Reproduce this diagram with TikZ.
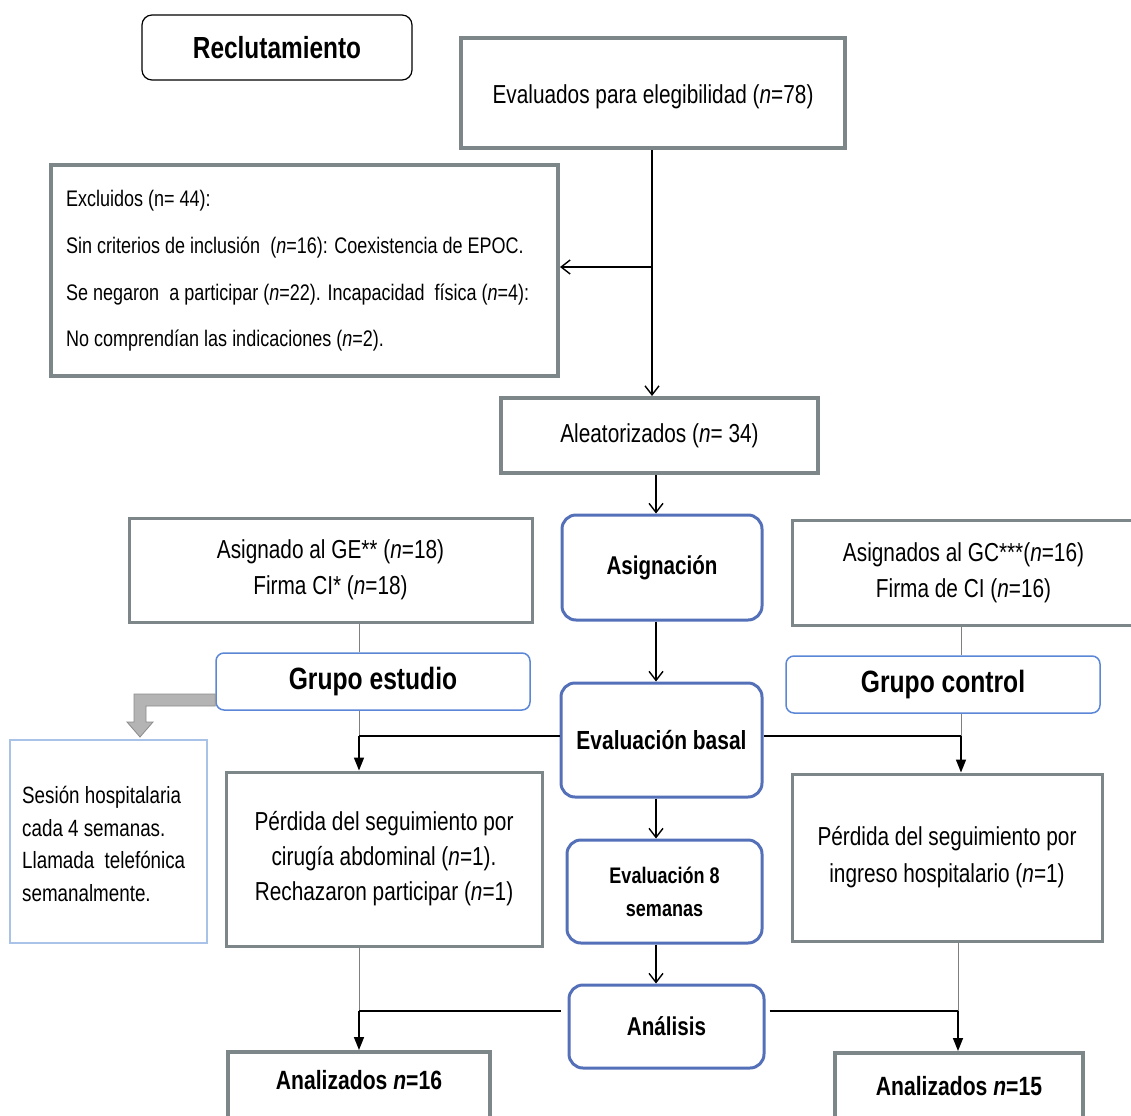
\documentclass[tikz,border=0pt]{standalone}
\usepackage{fontspec}
\setmainfont{Liberation Sans}[FakeStretch=0.80]
\usetikzlibrary{arrows.meta}
\definecolor{boxgray}{HTML}{7D878A}
\definecolor{roundblue}{HTML}{5470B8}
\definecolor{grpblue}{HTML}{5B87D6}
\definecolor{sesblue}{HTML}{A8C2E8}
\definecolor{blockgray}{HTML}{B4B4B4}
\definecolor{blockedge}{HTML}{8C8C8C}
\begin{document}
\begin{tikzpicture}[x=1pt,y=-1pt,
  graybox/.style={draw=boxgray, line width=4pt, fill=white, inner sep=4pt, align=center},
  thinbox/.style={draw=boxgray, line width=3pt, fill=white, inner sep=4pt, align=center},
  bluebox/.style={draw=roundblue, line width=3pt, rounded corners=14pt, fill=white, align=center, font=\bfseries\fontsize{26}{31}\selectfont},
  grpbox/.style={draw=grpblue, line width=1.5pt, rounded corners=8pt, fill=white, font=\bfseries\fontsize{30.8}{36}\selectfont},
  sesbox/.style={draw=sesblue, line width=1.5pt, fill=white},
  plain/.style={inner sep=0pt, align=left},
  conn/.style={line width=1.6pt, draw=black},
  thinconn/.style={line width=1pt, draw=gray},
  openarr/.style={conn, -{Straight Barb[length=9pt,width=14pt,line width=1.4pt]}},
  fillarr/.style={conn, -{Triangle[length=13pt,width=10pt]}}
]
\useasboundingbox (0,0) rectangle (1131,1115);

% nodes
\node[draw=black, line width=1.2pt, rounded corners=10pt, minimum width=270, minimum height=65, font=\bfseries\fontsize{30.5}{36}\selectfont] (rec) at (277,47.5) {Reclutamiento};
\node[graybox, minimum width=384, minimum height=110] (eval) at (653,93) {};
\node[plain, font=\fontsize{26}{31}\selectfont] (evalt) at (653,97) {Evaluados para elegibilidad (\textit{n}=78)};
\node[graybox, minimum width=507, minimum height=211] (excl) at (304.5,270.5) {};
\node[plain, anchor=west, font=\fontsize{22.5}{46.7}\selectfont] (exclt) at (66,271) {Excluidos (n= 44):\\Sin criterios de inclusión\ \ (\textit{n}=16): Coexistencia de EPOC.\\Se negaron\ \ a participar (\textit{n}=22). Incapacidad\ \ física (\textit{n}=4):\\No comprendían las indicaciones (\textit{n}=2).};
\node[graybox, minimum width=317, minimum height=75, font=\fontsize{26}{31}\selectfont] (alea) at (659.5,435.5) {Aleatorizados (\textit{n}= 34)};
\node[bluebox, minimum width=200, minimum height=105, font=\bfseries\fontsize{25.7}{31}\selectfont] (asig) at (662,567.5) {Asignación};
\node[thinbox, minimum width=403, minimum height=104, font=\fontsize{26}{36}\selectfont] (ge) at (330.5,570) {Asignado al GE** (\textit{n}=18)\\Firma CI* (\textit{n}=18)};
\node[thinbox, minimum width=343, minimum height=105, font=\fontsize{26}{36}\selectfont] (gc) at (963.5,572.5) {Asignados al GC***(\textit{n}=16)\\Firma de CI (\textit{n}=16)};
\node[grpbox, minimum width=314, minimum height=57] (gest) at (373,681.5) {Grupo estudio};
\node[grpbox, minimum width=314, minimum height=57] (gcon) at (943,684.5) {Grupo control};
\node[bluebox, minimum width=201, minimum height=114, font=\bfseries\fontsize{26.2}{31}\selectfont] (evb) at (661.5,740) {Evaluación basal};
\node[sesbox, minimum width=197, minimum height=203] (ses) at (108.5,841.5) {};
\node[plain, anchor=west, font=\fontsize{23.5}{32.7}\selectfont] (sest) at (22,844) {Sesión hospitalaria\\cada 4 semanas.\\Llamada\ \ telefónica\\semanalmente.};
\node[thinbox, minimum width=316, minimum height=174, font=\fontsize{26}{35}\selectfont] (pge) at (384,859) {Pérdida del seguimiento por\\cirugía abdominal (\textit{n}=1).\\Rechazaron participar (\textit{n}=1)};
\node[bluebox, minimum width=195, minimum height=103, font=\bfseries\fontsize{22.5}{33}\selectfont] (ev8) at (664.5,891.5) {Evaluación 8\\semanas};
\node[thinbox, minimum width=310, minimum height=167, font=\fontsize{26}{37}\selectfont] (pgc) at (947,857.5) {Pérdida del seguimiento por\\ingreso hospitalario (\textit{n}=1)};
\node[bluebox, minimum width=195, minimum height=83, font=\bfseries\fontsize{25.8}{31}\selectfont] (ana) at (666.5,1026.5) {Análisis};
\node[graybox, minimum width=262, minimum height=68] (a16) at (359,1086) {};
\node[plain, font=\bfseries\fontsize{26.4}{31}\selectfont] (a16t) at (359,1080) {Analizados \textit{n}=16};
\node[graybox, minimum width=248, minimum height=67, font=\bfseries\fontsize{26.4}{31}\selectfont] (a15) at (959,1086.5) {Analizados \textit{n}=15};

% column coordinates
\coordinate (cm) at (652,0);
\coordinate (cm2) at (656,0);
\coordinate (cl) at (359,0);
\coordinate (cr) at (961,0);
\coordinate (cr2) at (958,0);
\coordinate (jl) at (359,736);
\coordinate (jr) at (961,736);
\coordinate (kl) at (359,1011);
\coordinate (kr) at (958,1011);
\coordinate (ex) at (652,267);

% connectors
\draw[openarr] (eval.south -| cm) -- (alea.north -| cm);
\draw[openarr] (ex) -- (excl.east |- ex);
\draw[openarr] (alea.south -| cm2) -- (asig.north -| cm2);
\draw[openarr] (asig.south -| cm2) -- (evb.north -| cm2);
\draw[openarr] (evb.south -| cm2) -- (ev8.north -| cm2);
\draw[openarr] (ev8.south -| cm2) -- (ana.north -| cm2);

\draw[thinconn] (ge.south -| cl) -- (gest.north -| cl);
\draw[thinconn] (gc.south -| cr) -- (gcon.north -| cr);
\draw[thinconn] (gest.south -| cl) -- (jl);
\draw[thinconn] (gcon.south -| cr) -- (jr);
\draw[conn] (evb.west |- jl) -- (jl);
\draw[conn] (evb.east |- jr) -- (jr);
\draw[fillarr] (jl) -- (pge.north -| cl);
\draw[fillarr] (jr) -- (pgc.north -| cr);

\draw[thinconn] (pge.south -| cl) -- (kl);
\draw[thinconn] (pgc.south -| cr2) -- (kr);
\draw[conn] ([xshift=-7pt]ana.west |- kl) -- (kl);
\draw[conn] ([xshift=4pt]ana.east |- kr) -- (kr);
\draw[fillarr] (kl) -- (a16.north -| cl);
\draw[fillarr] (kr) -- (a15.north -| cr2);

% grey block arrow from Grupo estudio to Sesion box
\draw[draw=blockedge, fill=blockgray, line width=0.8pt]
  (gest.west |- 0,694) -- (134,694) -- (134,722) -- (127,722) -- (140,737) -- (153,722) -- (146,722) -- (146,706) -- (gest.west |- 0,706) -- cycle;
\end{tikzpicture}
\end{document}
